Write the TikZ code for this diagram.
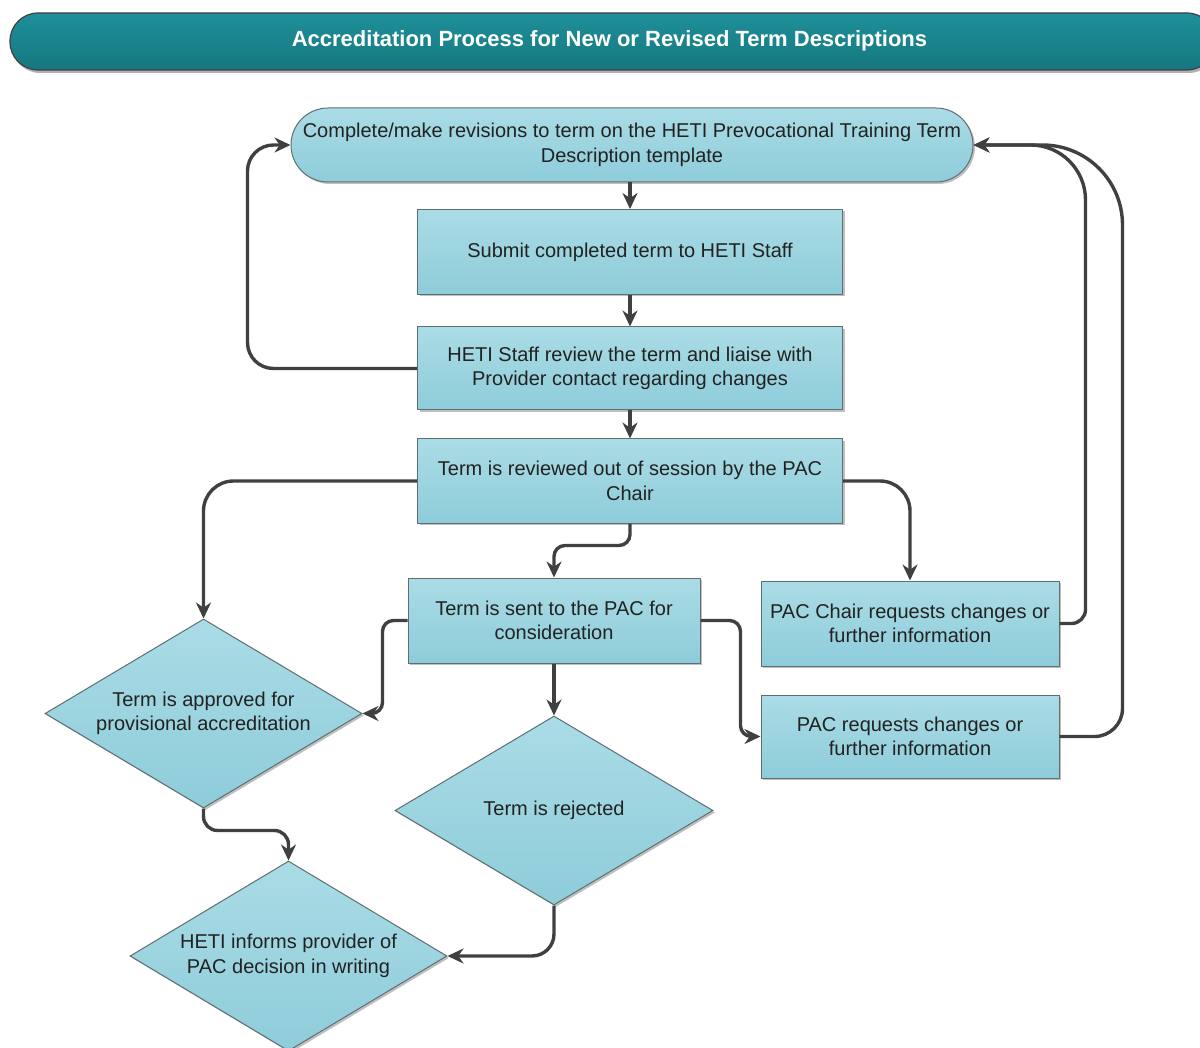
\documentclass[tikz,border=0pt]{standalone}
\usepackage{fontspec}
\setmainfont{Liberation Sans}
\newfontfamily\titlefont{Liberation Sans}
\usetikzlibrary{arrows.meta,shapes.geometric,shadows,calc}
\definecolor{boxtop}{HTML}{AADCE6}
\definecolor{boxbot}{HTML}{8ECCDA}
\definecolor{boxline}{HTML}{5F6E72}
\definecolor{connc}{HTML}{404040}
\definecolor{titletop}{HTML}{1E9099}
\definecolor{titlebot}{HTML}{167780}
\definecolor{txt}{HTML}{222222}
\begin{document}
\begin{tikzpicture}[x=1pt,y=-1pt,
  base/.style={draw=boxline, line width=1pt, top color=boxtop, bottom color=boxbot,
    text=txt, font=\fontsize{20}{24.5}\selectfont, align=center, inner sep=0pt,
    drop shadow={shadow xshift=2pt,shadow yshift=-2pt,opacity=0.25,fill=black}},
  proc/.style={base, rectangle},
  termbox/.style={base, rectangle, rounded corners=37pt},
  dec/.style={base, diamond, shape aspect=1.68},
  conn/.style={draw=connc, line width=3.4pt, rounded corners=18pt,
    -{Stealth[length=16pt,width=15pt]}},
  titlebar/.style={draw=black!75, line width=1.2pt, top color=titletop, bottom color=titlebot,
    rounded corners=28pt, inner sep=0pt,
    drop shadow={shadow xshift=2pt,shadow yshift=-3pt,opacity=0.3,fill=black}},
  titletxt/.style={text=white, font=\titlefont\bfseries\fontsize{22}{26}\selectfont, inner sep=0pt},
]
\useasboundingbox (0,0) rectangle (1200,1048);

\begin{scope}
\clip (0,0) rectangle (1200,1048);
\node[titlebar, minimum width=1205pt, minimum height=57pt] (title) at (612.5,41.5) {};
\end{scope}
\node[titletxt] (titletext) at (609.5,41) {Accreditation Process for New or Revised Term Descriptions};

\node[termbox, minimum width=682pt, minimum height=74pt] (t) at (632,145)
  {Complete/make revisions to term on the HETI Prevocational Training Term\\Description template};
\node[proc, minimum width=425pt, minimum height=85pt] (s) at (630,252)
  {Submit completed term to HETI Staff};
\node[proc, minimum width=425pt, minimum height=83pt] (r) at (630,368.5)
  {HETI Staff review the term and liaise with\\Provider contact regarding changes};
\node[proc, minimum width=425pt, minimum height=84pt] (c) at (630,481)
  {Term is reviewed out of session by the PAC\\Chair};
\node[proc, minimum width=292pt, minimum height=85pt] (p) at (554,620.5)
  {Term is sent to the PAC for\\consideration};
\node[proc, minimum width=298pt, minimum height=85pt] (pc) at (910,623.5)
  {PAC Chair requests changes or\\further information};
\node[proc, minimum width=298pt, minimum height=83pt] (pr) at (910,736.5)
  {PAC requests changes or\\further information};
\node[dec, minimum width=317pt, minimum height=189pt] (ap) at (203.5,713.5)
  {Term is approved for\\provisional accreditation};
\node[dec, minimum width=318pt, minimum height=189pt] (rj) at (554,810.5)
  {Term is rejected};
\node[dec, minimum width=317pt, minimum height=190pt] (hi) at (288.5,956)
  {HETI informs provider of\\PAC decision in writing};

\draw[conn] (t.south -| s.north) -- (s.north);
\draw[conn] (s.south) -- (r.north);
\draw[conn] (r.south) -- (c.north);
\draw[conn, rounded corners=26pt] (r.west) -| ([xshift=-43pt]t.west) -- (t.west);
\draw[conn, rounded corners=30pt] (c.west) -| (ap.north);
\draw[conn, rounded corners=11pt] (c.south) -- ++(0,22) -| (p.north);
\draw[conn, rounded corners=30pt] (c.east) -| (pc.north);
\draw[conn, rounded corners=11pt] (p.west) -- ++(-25,0) |- (ap.east);
\draw[conn, rounded corners=11pt] (p.east) -- ++(40,0) |- (pr.west);
\draw[conn] (p.south) -- (rj.north);
\draw[conn] (pc.east) [rounded corners=14pt] -- ++(26,0) [rounded corners=55pt] |- (t.east);
\draw[conn] (pr.east) [rounded corners=28pt] -- ++(63,0) [rounded corners=80pt] |- (t.east);
\draw[conn, rounded corners=14pt] (ap.south) -- ++(0,22) -| (hi.north);
\draw[conn, rounded corners=22pt] (rj.south) |- (hi.east);
\end{tikzpicture}
\end{document}
